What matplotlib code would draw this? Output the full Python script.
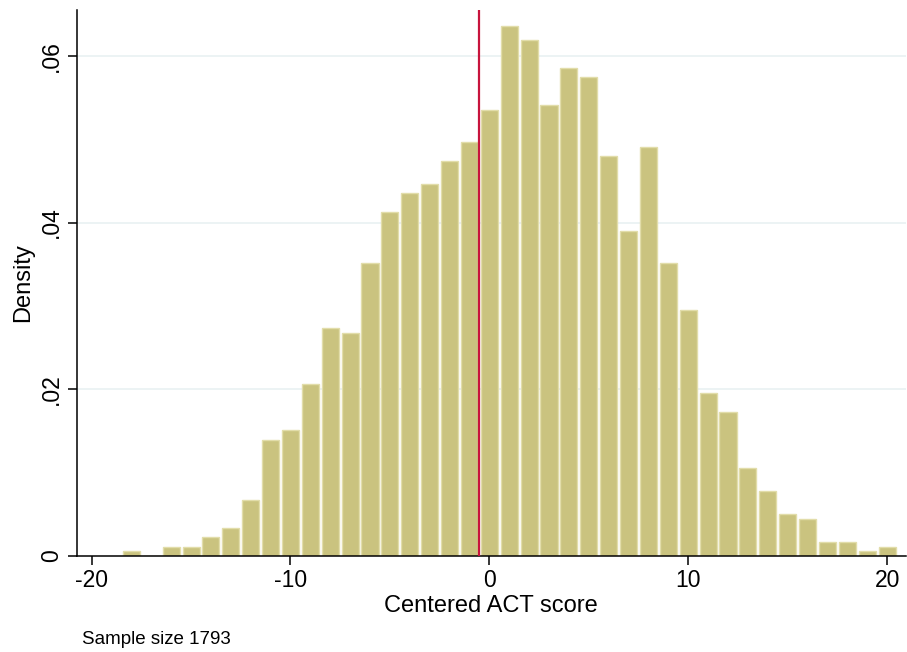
import numpy as np
import matplotlib
matplotlib.use('Agg')
import matplotlib.pyplot as plt

plt.rcParams['font.family'] = ['Liberation Sans', 'DejaVu Sans']

# bin centres (centered ACT score) and counts per bin
score_bins = list(range(-18, 21))
counts = [1, 0, 2, 2, 4, 6, 12, 25, 27, 37, 49, 48, 63, 74, 78, 80, 85, 89, 96,
          114, 111, 97, 105, 103, 86, 70, 88, 63, 53, 35, 31, 19, 14, 9, 8, 3, 3, 1, 2]
sample_size = 1793
cutoff = -0.5
y_ticks = [0, 0.02, 0.04, 0.06]
y_ticklabels = ['0', '.02', '.04', '.06']
x_ticks = [-20, -10, 0, 10, 20]

density = np.array(counts) / sample_size

fig = plt.figure(figsize=(9.07, 6.52), dpi=100)
ax = fig.add_axes([76.7 / 907, 96 / 652, (906 - 76.7) / 907, 546 / 652])

for y in y_ticks[1:]:
    ax.axhline(y, color='#EAF2F3', lw=1.3, zorder=0)

ax.bar(score_bins, density, width=0.86, color='#CAC37F', edgecolor='#E2DDAA',
       linewidth=1.0, zorder=2)
ax.axvline(cutoff, color='#C8143C', lw=1.6, zorder=3)

ax.set_xlim(-20.75, 20.95)
ax.set_ylim(0, 0.0655)
ax.set_xticks(x_ticks)
ax.set_xticklabels([str(t) for t in x_ticks], fontsize=16.5)
ax.set_yticks(y_ticks)
ax.set_yticklabels(y_ticklabels, fontsize=16.5, rotation=90, va='center')
ax.tick_params(axis='both', direction='out', length=6.5, width=1.1, color='black')
ax.tick_params(axis='x', pad=3)

for side in ['top', 'right']:
    ax.spines[side].set_visible(False)
for side in ['left', 'bottom']:
    ax.spines[side].set_linewidth(1.1)

ax.set_xlabel('Centered ACT score', fontsize=17, labelpad=2)
ax.set_ylabel('Density', fontsize=17, labelpad=4)

fig.text(82 / 907, 1 - 644 / 652, f'Sample size {sample_size}', fontsize=13.5, va='baseline')

fig.savefig('out.png', dpi=100)
